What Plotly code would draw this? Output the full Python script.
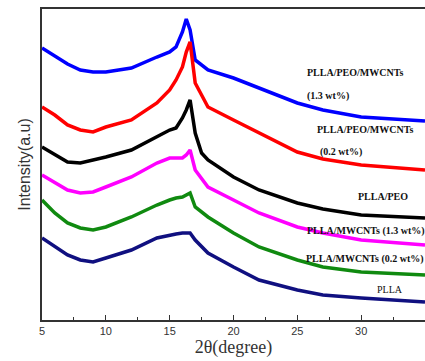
import plotly.graph_objects as go

two_theta = [5, 6, 7, 8, 9, 10, 12, 14, 15, 15.5, 16, 16.3, 16.6, 17, 17.5, 18, 20, 22, 25, 27, 30, 35]

# intensity (a.u.), offset stacked curves
blue = [272, 264, 256, 250, 248, 248, 252, 263, 268, 273, 288, 301, 290, 260, 255, 250, 242, 232, 217, 210, 203, 199]
red = [213, 205, 195, 190, 188, 193, 200, 217, 230, 240, 253, 268, 278, 237, 225, 213, 200, 187, 168, 161, 155, 150]
black = [173, 165, 158, 157, 160, 163, 170, 183, 190, 192, 202, 210, 220, 187, 167, 160, 143, 130, 117, 111, 105, 102]
magenta = [145, 137, 130, 127, 128, 133, 143, 157, 162, 162, 162, 165, 170, 150, 142, 133, 120, 107, 93, 87, 80, 75]
green = [120, 107, 97, 92, 90, 93, 103, 115, 120, 122, 123, 125, 127, 113, 108, 103, 87, 73, 60, 53, 48, 45]
plla = [82, 73, 65, 60, 58, 62, 70, 82, 85, 86, 87, 87, 87, 80, 73, 67, 53, 40, 30, 25, 22, 18]

series = [
    ("PLLA/PEO/MWCNTs (1.3 wt%)", blue, "#0000FF"),
    ("PLLA/PEO/MWCNTs (0.2 wt%)", red, "#FF0000"),
    ("PLLA/PEO", black, "#000000"),
    ("PLLA/MWCNTs (1.3 wt%)", magenta, "#FF00FF"),
    ("PLLA/MWCNTs (0.2 wt%)", green, "#108A10"),
    ("PLLA", plla, "#101080"),
]

labels = [
    ("<b>PLLA/PEO/MWCNTs</b>", 25.6, 248),
    ("<b>(1.3 wt%)</b>", 25.6, 224),
    ("<b>PLLA/PEO/MWCNTs</b>", 26.4, 191),
    ("<b>(0.2 wt%)</b>", 26.6, 168),
    ("<b>PLLA/PEO</b>", 29.6, 124),
    ("<b>PLLA/MWCNTs (1.3 wt%)</b>", 25.6, 89),
    ("<b>PLLA/MWCNTs (0.2 wt%)</b>", 25.5, 61),
    ("PLLA", 31.1, 31),
]

fig = go.Figure()
for name, ys, col in series:
    fig.add_trace(go.Scatter(x=two_theta, y=ys, mode="lines", name=name,
                             line=dict(color=col, width=3.5)))

for txt, x, y in labels:
    fig.add_annotation(x=x, y=y, text=txt, showarrow=False, xanchor="left", yanchor="middle",
                       font=dict(family="Liberation Serif, serif", size=10, color="#111"))

fig.update_layout(
    width=425, height=361,
    margin=dict(l=42, r=0, t=9, b=41),
    paper_bgcolor="white", plot_bgcolor="white",
    showlegend=False,
    xaxis=dict(range=[5, 35], tickvals=[5, 10, 15, 20, 25, 30, 35],
               ticktext=["5", "10", "15", "20", "25", "30", "35"],
               automargin=False,
               ticks="inside", ticklen=5, tickcolor="#333", showline=True, linecolor="#333",
               linewidth=1.5, mirror=True, showgrid=False, zeroline=False,
               minor=dict(ticks="inside", ticklen=3, tickcolor="#333", dtick=2.5, tick0=5),
               tickfont=dict(family="Liberation Sans", size=11, color="#333"),
               title=dict(text="2θ(degree)", font=dict(family="Liberation Serif, serif", size=18, color="#333"), standoff=2)),
    yaxis=dict(range=[0, 311], showticklabels=False, ticks="", showline=True, linecolor="#333",
               automargin=False,
               linewidth=1.5, showgrid=False, zeroline=False,
               title=dict(text="Intensity(a.u)", font=dict(family="Liberation Sans", size=16, color="#333"), standoff=6)),
)

fig.write_html("out.html", config={"displayModeBar": False},
               post_script="document.body.style.margin='0';document.body.style.overflow='hidden';")
